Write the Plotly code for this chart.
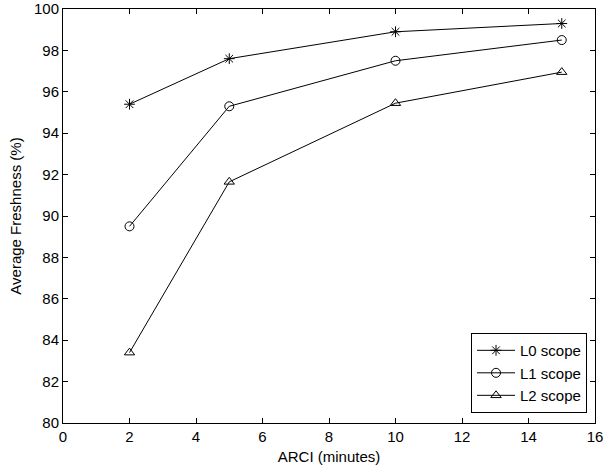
import plotly.graph_objects as go

arci = [2, 5, 10, 15]
l0 = [95.4, 97.6, 98.9, 99.3]
l1 = [89.5, 95.3, 97.5, 98.5]
l2 = [83.4, 91.65, 95.45, 96.95]
names = ["L0 scope", "L1 scope", "L2 scope"]
symbols = ["asterisk-open", "circle-open", "triangle-up-open"]
xticks = list(range(0, 17, 2))
yticks = list(range(80, 101, 2))

FONT = "Liberation Sans, Arial, Helvetica"
fig = go.Figure()
for ys, name, sym in zip([l0, l1, l2], names, symbols):
    fig.add_trace(go.Scatter(
        x=arci, y=ys, name=name, mode="lines+markers",
        line=dict(color="black", width=1),
        marker=dict(symbol=sym, size=9, color="black", line=dict(color="black", width=1)),
    ))

axis_common = dict(
    showline=True, linecolor="black", linewidth=1, mirror="ticks",
    ticks="inside", ticklen=5, tickcolor="black", showgrid=False, zeroline=False,
    automargin=False,
    tickfont=dict(family=FONT, size=15, color="black"),
)
fig.update_xaxes(range=[0, 16], tickvals=xticks, title=dict(text="ARCI (minutes)", standoff=7,
                 font=dict(family=FONT, size=15, color="black")), **axis_common)
fig.update_yaxes(range=[80, 100], tickvals=yticks, title=dict(text="Average Freshness (%)", standoff=8,
                 font=dict(family=FONT, size=15, color="black")), **axis_common)

fig.update_layout(
    width=604, height=467,
    margin=dict(l=63, r=9, t=9, b=44),
    plot_bgcolor="white", paper_bgcolor="white",
    font=dict(family=FONT, size=15, color="black"),
    legend=dict(x=0.985, y=0.024, xanchor="right", yanchor="bottom",
                bordercolor="black", borderwidth=1, bgcolor="white",
                font=dict(family=FONT, size=15, color="black"), tracegroupgap=0, itemwidth=38),
)
fig.write_html("out.html", config={"displayModeBar": False},
               post_script="document.body.style.margin='0';document.body.style.overflow='hidden';")
